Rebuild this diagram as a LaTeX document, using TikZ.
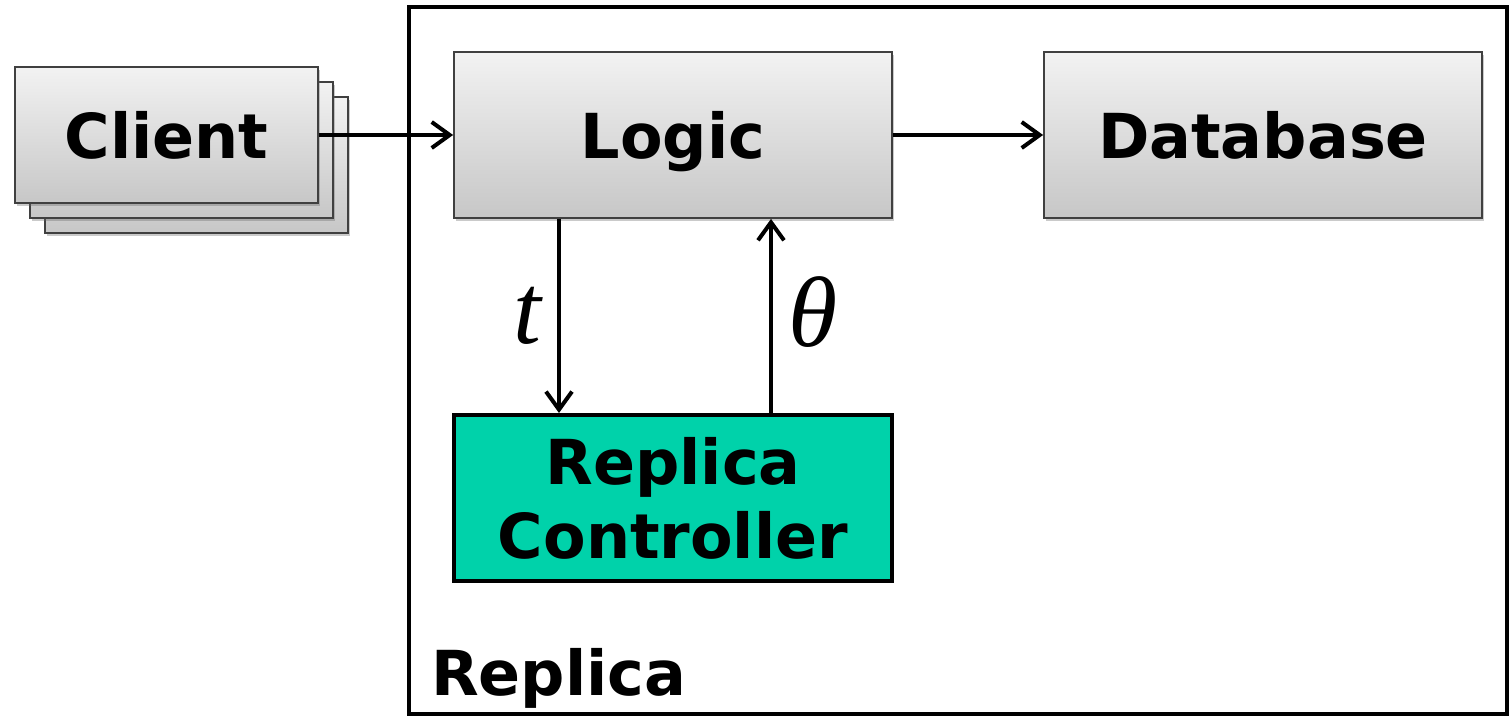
\documentclass[tikz,border=0pt]{standalone}
\usepackage{fontspec}
\setmainfont{DejaVu Sans}
\newfontfamily\serifit{Liberation Serif}
\usetikzlibrary{arrows.meta,shadows,calc}
\begin{document}
\begin{tikzpicture}[x=1pt,y=-1pt,
  boxtext/.style={font=\fontsize{62}{70}\selectfont\bfseries,text height=47pt,text depth=0pt},
  graybox/.style={draw=black!75,line width=1.8pt,top color=black!5,bottom color=black!22,
    minimum width=#1,minimum height=166pt,inner sep=0pt,boxtext,
    drop shadow={shadow xshift=2pt,shadow yshift=-3pt,opacity=0.35,fill=black!60}},
  clientbox/.style={draw=black!75,line width=1.8pt,top color=black!5,bottom color=black!22,
    minimum width=303pt,minimum height=136pt,inner sep=0pt,boxtext,
    drop shadow={shadow xshift=2pt,shadow yshift=-3pt,opacity=0.35,fill=black!60}},
  ctrlbox/.style={draw=black,line width=4pt,fill=ctrlteal,minimum width=438pt,minimum height=166pt,
    inner sep=0pt,align=center,font=\fontsize{62}{74}\selectfont\bfseries},
  arr/.style={line width=4pt,-{Straight Barb[length=18pt,width=26pt,line width=4pt]}},
  varlabel/.style={font=\fontsize{100}{110}\selectfont\serifit\itshape,inner sep=0pt}]
\definecolor{ctrlteal}{HTML}{00D2AA}
\useasboundingbox (0,0) rectangle (1511,717);

% enclosing replica frame
\draw[line width=4pt] (409,7) rectangle (1507,714);
\node[anchor=base west,inner sep=0pt,font=\fontsize{62}{70}\selectfont\bfseries] (replica) at (431,695) {Replica};

% stacked clients
\node[clientbox] (client3) at (196.5,165) {};
\node[clientbox] (client2) at (181.5,150) {};
\node[clientbox] (client) at (166.5,135) {Client};

% main blocks
\node[graybox=438pt] (logic) at (673,135) {Logic};
\node[graybox=438pt] (db) at (1263,135) {Database};
\node[ctrlbox] (ctrl) at (673,498) {Replica\\Controller};

% connectors
\coordinate (tx) at (559,0);
\coordinate (thx) at (771,0);
\draw[arr] (client.east) -- (logic.west);
\draw[arr] (logic.east) -- (db.west);
\draw[arr] (logic.south -| tx) -- (ctrl.north -| tx);
\draw[arr] (ctrl.north -| thx) -- (logic.south -| thx);

\node[varlabel] (tlab) at (527,316) {t};
\node[varlabel] (thlab) at (813,312) {θ};
\end{tikzpicture}
\end{document}
